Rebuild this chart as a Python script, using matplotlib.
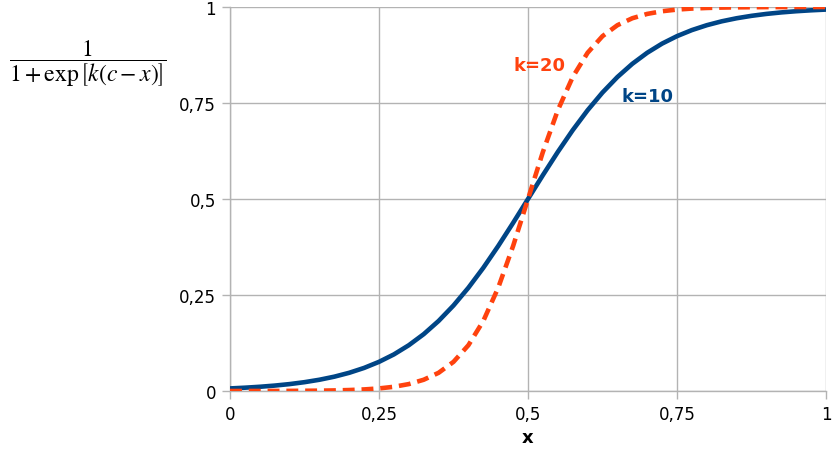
import matplotlib.pyplot as plt
import numpy as np

# x samples and curve values
x_vals = [0.000, 0.025, 0.050, 0.075, 0.100, 0.125, 0.150, 0.175, 0.200, 0.225,
          0.250, 0.275, 0.300, 0.325, 0.350, 0.375, 0.400, 0.425, 0.450, 0.475,
          0.500, 0.525, 0.550, 0.575, 0.600, 0.625, 0.650, 0.675, 0.700, 0.725,
          0.750, 0.775, 0.800, 0.825, 0.850, 0.875, 0.900, 0.925, 0.950, 0.975, 1.000]

y_k10 = [0.0067, 0.0086, 0.0110, 0.0141, 0.0180, 0.0230, 0.0293, 0.0373, 0.0474, 0.0601,
         0.0759, 0.0953, 0.1192, 0.1480, 0.1824, 0.2227, 0.2689, 0.3208, 0.3775, 0.4378,
         0.5000, 0.5622, 0.6225, 0.6792, 0.7311, 0.7773, 0.8176, 0.8520, 0.8808, 0.9047,
         0.9241, 0.9399, 0.9526, 0.9627, 0.9707, 0.9770, 0.9820, 0.9859, 0.9890, 0.9914, 0.9933]

y_k20 = [0.0000, 0.0001, 0.0001, 0.0002, 0.0003, 0.0006, 0.0009, 0.0015, 0.0025, 0.0041,
         0.0067, 0.0110, 0.0180, 0.0293, 0.0474, 0.0759, 0.1192, 0.1824, 0.2689, 0.3775,
         0.5000, 0.6225, 0.7311, 0.8176, 0.8808, 0.9241, 0.9526, 0.9707, 0.9820, 0.9890,
         0.9933, 0.9959, 0.9975, 0.9985, 0.9991, 0.9994, 0.9997, 0.9998, 0.9999, 0.9999, 1.0000]

ticks = [0, 0.25, 0.5, 0.75, 1]
tick_labels = ['0', '0,25', '0,5', '0,75', '1']

blue = '#004586'
orange = '#ff420e'
grid_c = '#b3b3b3'

fig = plt.figure(figsize=(8.32, 4.52), dpi=100)
ax = fig.add_axes([230 / 832, 1 - 392 / 452, 596 / 832, 384 / 452])

ax.plot(x_vals, y_k10, color=blue, lw=3.3, solid_capstyle='butt', zorder=3)
ax.plot(x_vals, y_k20, color=orange, lw=3.3, dashes=(2.6, 1.5), zorder=3)

ax.set_xlim(0, 1)
ax.set_ylim(0, 1)
ax.set_xticks(ticks)
ax.set_xticklabels(tick_labels)
ax.set_yticks(ticks)
ax.set_yticklabels(tick_labels)
ax.tick_params(axis='both', labelsize=12, length=6, color=grid_c, width=1, pad=4)

ax.grid(True, color=grid_c, lw=1)
for s in ['top', 'right']:
    ax.spines[s].set_visible(False)
for s in ['left', 'bottom']:
    ax.spines[s].set_color(grid_c)
    ax.spines[s].set_linewidth(1)

ax.set_xlabel('x', fontsize=13, fontweight='bold', labelpad=4)

# curve labels
ax.text(0.52, 0.85, 'k=20', color=orange, fontsize=13, fontweight='bold', ha='center', va='center')
ax.text(0.70, 0.768, 'k=10', color=blue, fontsize=13, fontweight='bold', ha='center', va='center')

# y-axis formula
plt.rcParams['mathtext.fontset'] = 'stix'
fig.text(88 / 832, 1 - 64 / 452, r'$\dfrac{1}{1+\exp\left[k\left(c-x\right)\right]}$', fontsize=17,
         ha='center', va='center')

fig.savefig('out.png', dpi=100)
